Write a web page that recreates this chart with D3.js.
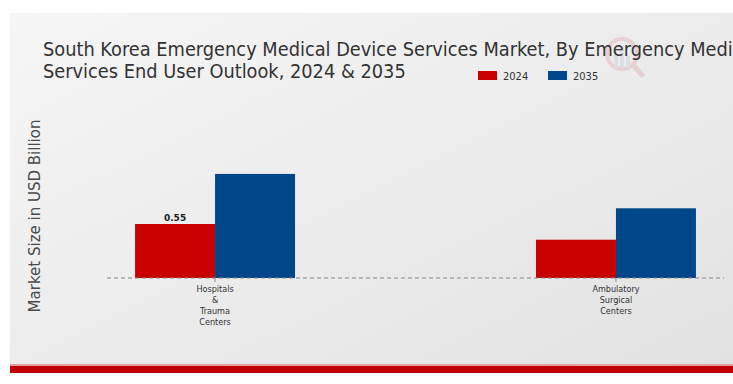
<!DOCTYPE html>
<html>
<head>
<meta charset="utf-8">
<script src="https://cdn.jsdelivr.net/npm/d3@7"></script>
<style>
  body { margin: 0; background: #fff; }
  svg { display: block; }
</style>
</head>
<body>
<svg id="chart"></svg>
<script>
// chart data
let categories = [['Hospitals', '&', 'Trauma', 'Centers'], ['Ambulatory', 'Surgical', 'Centers']]
let catKeys = ['Hospitals & Trauma Centers', 'Ambulatory Surgical Centers']
let years = ['2024', '2035']
let values2024 = [0.55, 0.39]
let values2035 = [1.06, 0.71]
let valueLabels2024 = ['0.55', '']

let width = 733
let height = 384
let baseY = 278

let svg = d3.select('#chart').attr('width', width).attr('height', height)

// background panel with soft gradient
let defs = svg.append('defs')
let grad = defs.append('linearGradient').attr('id', 'bg')
  .attr('x1', '0').attr('y1', '0').attr('x2', '1').attr('y2', '1')
grad.append('stop').attr('offset', '0').attr('stop-color', '#f6f6f6')
grad.append('stop').attr('offset', '1').attr('stop-color', '#e2e2e2')

svg.append('rect').attr('x', 10).attr('y', 13).attr('width', width - 10).attr('height', 353)
  .attr('fill', 'url(#bg)')
svg.append('rect').attr('x', 10).attr('y', 364).attr('width', width - 10).attr('height', 2)
  .attr('fill', '#e4a0a0')
svg.append('rect').attr('x', 10).attr('y', 366).attr('width', width - 10).attr('height', 7)
  .attr('fill', '#c00000')

// faint watermark logo
let logo = svg.append('g').attr('opacity', 0.16)
logo.append('circle').attr('cx', 622).attr('cy', 54).attr('r', 15)
  .attr('fill', 'none').attr('stroke', '#d04050').attr('stroke-width', 4)
logo.append('line').attr('x1', 633).attr('y1', 65).attr('x2', 642).attr('y2', 75)
  .attr('stroke', '#d04050').attr('stroke-width', 5).attr('stroke-linecap', 'round')
;[[614, 54], [620, 46], [626, 56]].forEach(b => {
  logo.append('rect').attr('x', b[0]).attr('y', b[1]).attr('width', 4).attr('height', 68 - b[1])
    .attr('fill', '#8a9ab0')
})

// title
let title = svg.append('text')
  .attr('x', 43).attr('y', 56)
  .style('font-family', '"DejaVu Sans Condensed", "Liberation Sans Narrow", sans-serif')
  .style('font-size', '19.8px')
  .attr('fill', '#333')
title.append('tspan').attr('x', 43).attr('y', 56)
  .text('South Korea Emergency Medical Device Services Market, By Emergency Medical')
title.append('tspan').attr('x', 43).attr('y', 78)
  .text('Services End User Outlook, 2024 & 2035')

// scales
let xScale = d3.scaleBand()
  .domain(catKeys)
  .range([107, 724])
  .paddingInner(0.601)
  .paddingOuter(0.07)

let xSub = d3.scaleBand()
  .domain(years)
  .range([0, xScale.bandwidth()])

let yScale = d3.scaleLinear()
  .domain([0, 0.55])
  .range([baseY, 224])

let colors = d3.scaleOrdinal().domain(years).range(['#c80000', '#00468b'])

// legend
let legend = svg.append('g')
years.forEach((yr, i) => {
  let lx = 478 + i * 70
  legend.append('rect').attr('x', lx).attr('y', 71).attr('width', 19).attr('height', 9)
    .attr('fill', colors(yr))
  legend.append('text').attr('x', lx + 25).attr('y', 80)
    .style('font-family', '"DejaVu Sans Condensed", "Liberation Sans Narrow", sans-serif')
    .style('font-size', '11px').attr('fill', '#333').text(yr)
})

// y axis title
svg.append('text')
  .attr('transform', 'translate(40,216) rotate(-90)')
  .attr('text-anchor', 'middle')
  .style('font-family', '"DejaVu Sans", sans-serif')
  .style('font-size', '15px')
  .attr('fill', '#4a4a4a')
  .text('Market Size in USD Billion')

// bars
let rows = catKeys.map((c, i) => ({ cat: c, vals: [values2024[i], values2035[i]] }))

let groups = svg.selectAll('.grp')
  .data(rows)
  .enter()
  .append('g')
  .attr('class', 'grp')
  .attr('transform', d => `translate(${xScale(d.cat)},0)`)

groups.selectAll('rect')
  .data(d => d.vals.map((v, j) => ({ year: years[j], v: v })))
  .enter()
  .append('rect')
  .attr('x', d => xSub(d.year))
  .attr('y', d => yScale(d.v))
  .attr('width', xSub.bandwidth())
  .attr('height', d => baseY - yScale(d.v))
  .attr('fill', d => colors(d.year))

// value labels
catKeys.forEach((c, i) => {
  if (!valueLabels2024[i]) return
  svg.append('text')
    .attr('x', xScale(c) + xSub('2024') + xSub.bandwidth() / 2)
    .attr('y', yScale(values2024[i]) - 3)
    .attr('text-anchor', 'middle')
    .style('font-family', '"DejaVu Sans", sans-serif')
    .style('font-size', '9px').style('font-weight', 'bold')
    .attr('fill', '#222')
    .text(valueLabels2024[i])
})

// x axis (dashed)
let xAxis = d3.axisBottom(xScale).tickSize(0).tickFormat('')
let axisG = svg.append('g').attr('transform', `translate(0,${baseY})`).call(xAxis)
axisG.select('.domain').attr('stroke', '#888').attr('stroke-dasharray', '4,3')
  .attr('d', 'M107,0H724')
axisG.selectAll('.tick line').remove()

// category labels
catKeys.forEach((c, i) => {
  let cx = xScale(c) + xScale.bandwidth() / 2
  svg.append('line').attr('x1', cx).attr('x2', cx).attr('y1', baseY).attr('y2', baseY + 4)
    .attr('stroke', '#888')
  let t = svg.append('text')
    .attr('text-anchor', 'middle')
    .style('font-family', '"DejaVu Sans Condensed", "Liberation Sans Narrow", sans-serif')
    .style('font-size', '9px').attr('fill', '#333')
  categories[i].forEach((line, k) => {
    t.append('tspan').attr('x', cx).attr('y', 292 + k * 11).text(line)
  })
})
</script>
</body>
</html>
